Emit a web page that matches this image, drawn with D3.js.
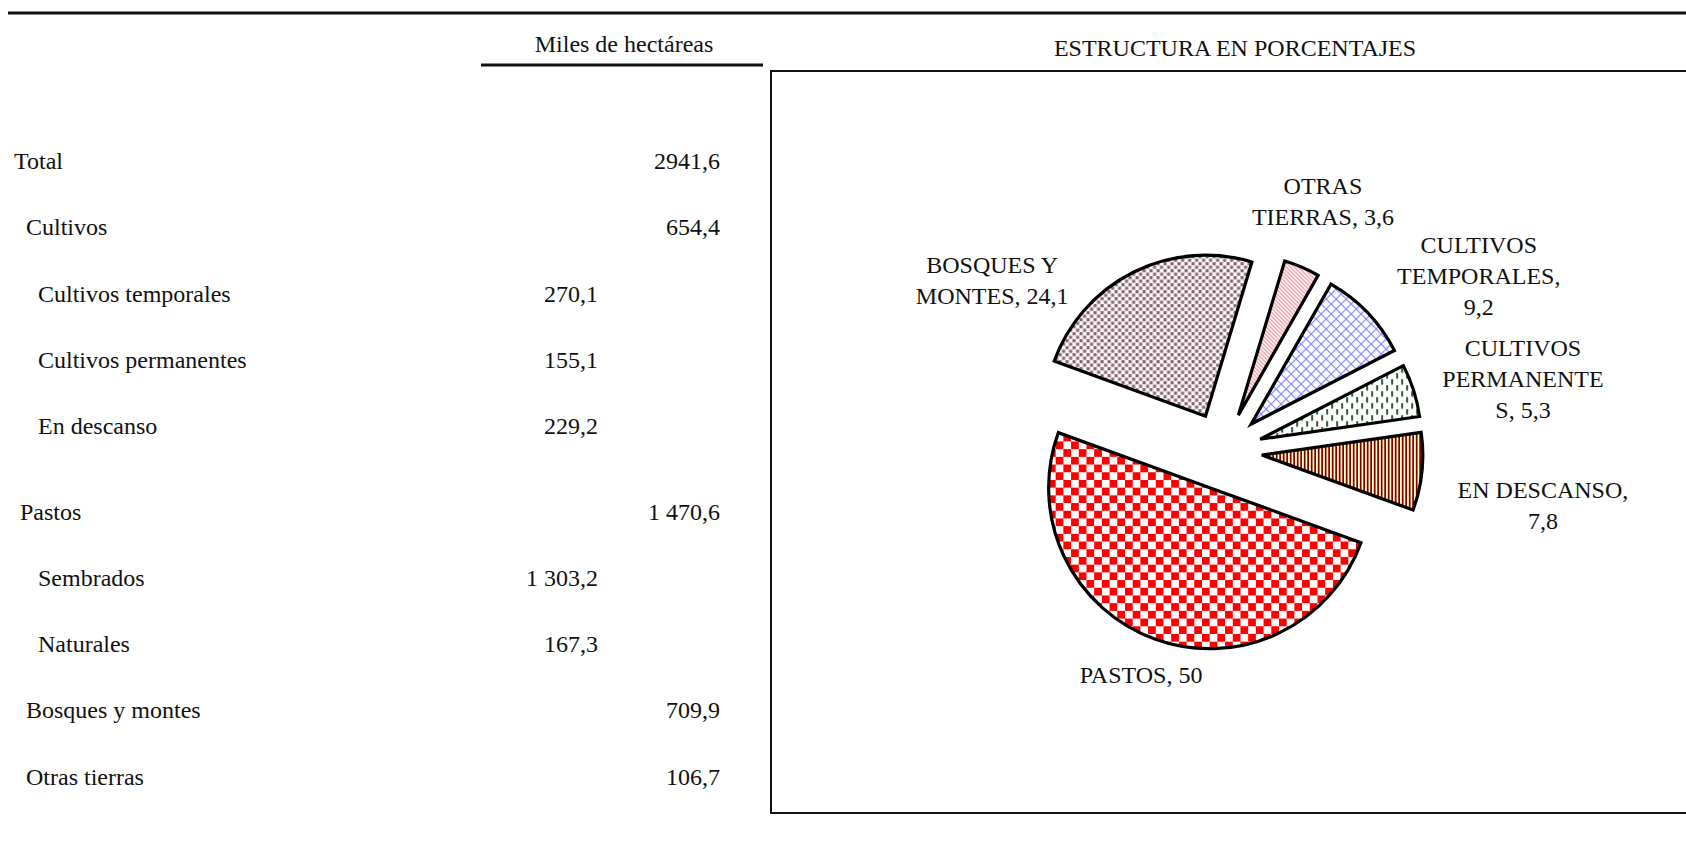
<!DOCTYPE html>
<html lang="es">
<head>
<meta charset="UTF-8">
<title>Superficie agrícola</title>
<script src="https://cdn.jsdelivr.net/npm/d3@7"></script>
<style>
  body { margin: 0; background: #fff; }
  svg text { font-family: "Liberation Serif", "Times New Roman", serif; fill: #111; }
</style>
</head>
<body>
<script>
// tabla (miles de hectáreas)
const filas = ["Total", "Cultivos", "Cultivos temporales", "Cultivos permanentes", "En descanso",
               "Pastos", "Sembrados", "Naturales", "Bosques y montes", "Otras tierras"];
const nivel = [0, 1, 2, 2, 2, 0.5, 2, 2, 1, 1];
const columna = [2, 2, 1, 1, 1, 2, 1, 1, 2, 2];
const hectareas = [2941.6, 654.4, 270.1, 155.1, 229.2, 1470.6, 1303.2, 167.3, 709.9, 106.7];
const hectareasTexto = ["2941,6", "654,4", "270,1", "155,1", "229,2", "1 470,6", "1 303,2", "167,3", "709,9", "106,7"];

// estructura en porcentajes (pie)
const sectores = ["Cultivos temporales", "Cultivos permanentes", "En descanso", "Pastos", "Bosques y montes", "Otras tierras"];
const porcentajes = [9.2, 5.3, 7.8, 50, 24.1, 3.6];
const etiquetas = [
  ["CULTIVOS", "TEMPORALES,", "9,2"],
  ["CULTIVOS", "PERMANENTE", "S, 5,3"],
  ["EN DESCANSO,", "7,8"],
  ["PASTOS, 50"],
  ["BOSQUES Y", "MONTES, 24,1"],
  ["OTRAS", "TIERRAS, 3,6"]
];
// colocación de etiquetas: [ángulo en grados, distancia al centro]
const posEtiqueta = [[55.6, 310], [76.5, 308.5], [99.6, 324.5], [200.1, 238.5], [306.4, 286.8], [21.8, 269]];

const W = 1686, H = 858;
const svg = d3.select("body").append("svg").attr("width", W).attr("height", H);

// ---- patrones
const defs = svg.append("defs");
function patron(id, w, h) {
  return defs.append("pattern").attr("id", id).attr("patternUnits", "userSpaceOnUse")
    .attr("width", w).attr("height", h);
}
// cultivos temporales: rejilla diagonal azul
let p = patron("p0", 10, 10);
p.append("rect").attr("width", 10).attr("height", 10).attr("fill", "#fff");
p.append("path").attr("d", "M0,0L10,10M10,0L0,10").attr("stroke", "#7f7fff").attr("stroke-width", 1.1);
// cultivos permanentes: rayitas verticales verdes
p = patron("p1", 10, 12);
p.append("rect").attr("width", 10).attr("height", 12).attr("fill", "#fff");
p.append("path").attr("d", "M2,0v5.5M7,6v5.5").attr("stroke", "#0a4010").attr("stroke-width", 1.7);
// en descanso: rayas verticales granate sobre crema
p = patron("p2", 3.5, 4);
p.append("rect").attr("width", 3.5).attr("height", 4).attr("fill", "#ffffc8");
p.append("rect").attr("width", 1.75).attr("height", 4).attr("fill", "#800000");
// pastos: damero rojo
p = patron("p3", 15.4, 15.4);
p.append("rect").attr("width", 15.4).attr("height", 15.4).attr("fill", "#fff");
p.append("rect").attr("width", 7.7).attr("height", 7.7).attr("fill", "#ff0000");
p.append("rect").attr("x", 7.7).attr("y", 7.7).attr("width", 7.7).attr("height", 7.7).attr("fill", "#ff0000");
// bosques y montes: puntos cuadrados
p = patron("p4", 7, 7);
p.append("rect").attr("width", 7).attr("height", 7).attr("fill", "#fff");
p.append("rect").attr("width", 3.2).attr("height", 3.2).attr("fill", "#876470");
p.append("rect").attr("x", 3.5).attr("y", 3.5).attr("width", 3.2).attr("height", 3.2).attr("fill", "#876470");
// otras tierras: diagonal rosa
p = patron("p5", 4, 4);
p.append("rect").attr("width", 4).attr("height", 4).attr("fill", "#fff");
p.append("path").attr("d", "M-1,-1L5,5M-1,3L1,5M3,-1L5,1").attr("stroke", "#f08090").attr("stroke-width", 1.1);

// ---- líneas y títulos
svg.append("line").attr("x1", 8).attr("x2", W).attr("y1", 13).attr("y2", 13)
  .attr("stroke", "#111").attr("stroke-width", 3);
svg.append("text").attr("x", 624).attr("y", 52).attr("text-anchor", "middle")
  .style("font-size", "24px").text("Miles de hectáreas");
svg.append("line").attr("x1", 481).attr("x2", 763).attr("y1", 65).attr("y2", 65)
  .attr("stroke", "#111").attr("stroke-width", 3);
svg.append("text").attr("x", 1235).attr("y", 56).attr("text-anchor", "middle")
  .style("font-size", "24px").text("ESTRUCTURA EN PORCENTAJES");
svg.append("rect").attr("x", 771).attr("y", 71).attr("width", W).attr("height", 742)
  .attr("fill", "none").attr("stroke", "#111").attr("stroke-width", 2);

// ---- tabla
const yFila = i => 169 + i * 66.3 + (i >= 5 ? 19 : 0);
const xNivel = d3.scaleLinear().domain([0, 2]).range([14, 38]);
const xCol = { 1: 598, 2: 720 };
const tabla = svg.append("g");
tabla.selectAll("text.lab").data(filas).join("text").attr("class", "lab")
  .attr("x", (d, i) => xNivel(nivel[i])).attr("y", (d, i) => yFila(i))
  .style("font-size", "24px").text(d => d);
tabla.selectAll("text.val").data(hectareas).join("text").attr("class", "val")
  .attr("x", (d, i) => xCol[columna[i]]).attr("y", (d, i) => yFila(i))
  .attr("text-anchor", "end").style("font-size", "24px").text((d, i) => hectareasTexto[i]);

// ---- pie
const cx = 1223, cy = 451, R = 161, explota = 39;
const a0 = 29.7 * Math.PI / 180;
const pie = d3.pie().sort(null).startAngle(a0).endAngle(a0 + 2 * Math.PI);
const arcos = pie(porcentajes);
const arc = d3.arc().innerRadius(0).outerRadius(R);
const g = svg.append("g").attr("transform", `translate(${cx},${cy})`);
g.selectAll("path").data(arcos).join("path")
  .attr("transform", d => {
    const m = (d.startAngle + d.endAngle) / 2;
    return `translate(${Math.sin(m) * explota},${-Math.cos(m) * explota})`;
  })
  .attr("d", arc)
  .attr("fill", (d, i) => `url(#p${i})`)
  .attr("stroke", "#000").attr("stroke-width", 3.2).attr("stroke-linejoin", "miter");

const lh = 31;
g.selectAll("text").data(arcos).join("text")
  .attr("text-anchor", "middle").style("font-size", "24px")
  .each(function (d, i) {
    const a = posEtiqueta[i][0] * Math.PI / 180, r = posEtiqueta[i][1];
    const x = Math.sin(a) * r, y = -Math.cos(a) * r;
    const lines = etiquetas[i];
    const y0 = y - (lines.length - 1) * lh / 2 + 8;
    d3.select(this).selectAll("tspan").data(lines).join("tspan")
      .attr("x", x).attr("y", (t, k) => y0 + k * lh).text(t => t);
  });
</script>
</body>
</html>
